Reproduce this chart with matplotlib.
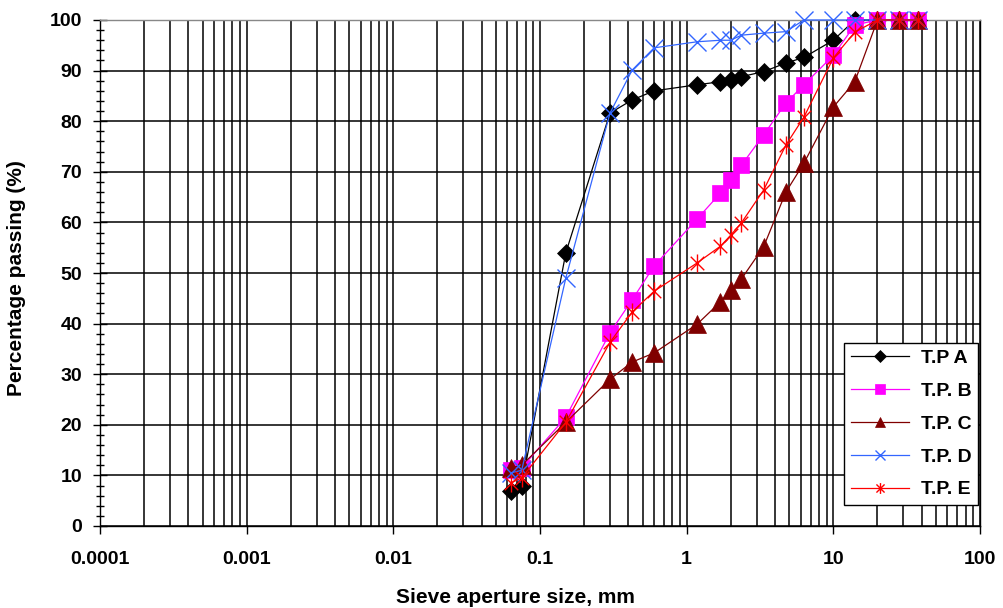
import numpy as np
import matplotlib
matplotlib.use("Agg")
import matplotlib.pyplot as plt
from matplotlib.path import Path
from matplotlib.ticker import FixedLocator, FixedFormatter, LogLocator, NullFormatter

# sieve sizes (mm)
sieves = [0.063, 0.075, 0.15, 0.3, 0.425, 0.6, 1.18, 1.7, 2.0, 2.36,
          3.35, 4.75, 6.3, 10, 14, 20, 28, 37.5]

# percentage passing for each test pit
tp_a = [7, 8, 54, 81.6, 84.2, 86.0, 87.2, 87.8, 88.1, 88.8,
        89.8, 91.5, 92.6, 96.0, 100, 100, 100, 100]
tp_b = [11, 11.5, 21.5, 38.2, 44.7, 51.4, 60.7, 65.8, 68.4, 71.3,
        77.3, 83.6, 87.2, 93.0, 99, 100, 100, 100]
tp_c = [11.5, 12, 20.5, 29.0, 32.4, 34.2, 39.9, 44.3, 46.6, 48.8,
        55.2, 66.0, 71.7, 82.8, 87.8, 100, 100, 100]
tp_d = [10.5, 11, 49.0, 81.6, 90.1, 94.5, 95.7, 96.0, 96.0, 97.0,
        97.4, 97.7, 100, 100, 100, 100, 100, 100]
tp_e = [8.5, 9.5, 20.5, 36.3, 42.3, 46.4, 52.0, 55.3, 57.5, 59.9,
        66.4, 75.3, 80.8, 92.5, 97.6, 100, 100, 100]

labels = ["T.P A", "T.P. B", "T.P. C", "T.P. D", "T.P. E"]

x_ticks = [0.0001, 0.001, 0.01, 0.1, 1, 10, 100]
x_ticklabels = ["0.0001", "0.001", "0.01", "0.1", "1", "10", "100"]
y_ticks = list(range(0, 101, 10))

plt.rcParams["font.family"] = ["Liberation Sans", "DejaVu Sans"]
plt.rcParams["font.weight"] = "bold"

# excel style star: vertical bar plus an x
star = Path([(0, -1), (0, 1), (-0.75, -0.75), (0.75, 0.75), (-0.75, 0.75), (0.75, -0.75)],
            [Path.MOVETO, Path.LINETO, Path.MOVETO, Path.LINETO, Path.MOVETO, Path.LINETO])

styles = [
    dict(color="black", marker="D", ms=9.5, mfc="black", mec="black", mew=0.5),
    dict(color="#FF00FF", marker="s", ms=12, mfc="#FF00FF", mec="#FF00FF", mew=0.5),
    dict(color="#800000", marker="^", ms=13, mfc="#800000", mec="#800000", mew=0.5),
    dict(color="#3366FF", marker="x", ms=13, mec="#3366FF", mew=1.0),
    dict(color="#FF0000", marker=star, ms=13, mec="#FF0000", mew=1.0),
]

fig = plt.figure(figsize=(10.04, 6.08), dpi=100)
ax = fig.add_axes([100 / 1004, 82 / 608, 880 / 1004, 506 / 608])

for series, lab, st in zip([tp_a, tp_b, tp_c, tp_d, tp_e], labels, styles):
    ax.plot(sieves, series, lw=0.9, label=lab, clip_on=False, zorder=3, **st)

ax.set_xscale("log")
ax.set_xlim(1e-4, 100)
ax.set_ylim(0, 100)

ax.xaxis.set_major_locator(FixedLocator(x_ticks))
ax.xaxis.set_major_formatter(FixedFormatter(x_ticklabels))
ax.xaxis.set_minor_locator(LogLocator(base=10, subs=np.arange(2, 10), numticks=20))
ax.xaxis.set_minor_formatter(NullFormatter())
ax.yaxis.set_major_locator(FixedLocator(y_ticks))
ax.yaxis.set_minor_locator(FixedLocator(list(range(0, 101, 2))))

ax.grid(which="both", axis="x", color="black", lw=1.1, zorder=0)
ax.grid(which="major", axis="y", color="black", lw=1.1, zorder=0)
ax.set_axisbelow(True)

ax.tick_params(axis="x", which="major", direction="out", length=6, width=1, pad=12, labelsize=14)
ax.tick_params(axis="x", which="minor", length=0)
ax.tick_params(axis="y", which="major", direction="inout", length=10, width=1, pad=8, labelsize=14)
ax.tick_params(axis="y", which="minor", direction="inout", length=6, width=1)
for lbl in ax.get_xticklabels() + ax.get_yticklabels():
    lbl.set_fontweight("bold")

for sp in ax.spines.values():
    sp.set_color("black")
    sp.set_linewidth(1.0)
ax.spines["top"].set_color("#888888")

ax.set_xlabel("Sieve aperture size, mm", fontsize=15, fontweight="bold")
ax.xaxis.set_label_coords((515 - 100) / 880, -0.122)
ax.set_ylabel("Percentage passing (%)", fontsize=15, fontweight="bold")
ax.yaxis.set_label_coords(-0.084, 0.49)

leg = ax.legend(loc="lower right", bbox_to_anchor=(0.9975, 0.042), borderaxespad=0,
                fontsize=14, markerscale=0.6, handlelength=3.0, handletextpad=0.6,
                fancybox=False, framealpha=1, edgecolor="black", borderpad=0.33,
                labelspacing=0.78)
leg.get_frame().set_linewidth(1.0)
for t in leg.get_texts():
    t.set_fontweight("bold")

fig.savefig("out.png", dpi=100)
